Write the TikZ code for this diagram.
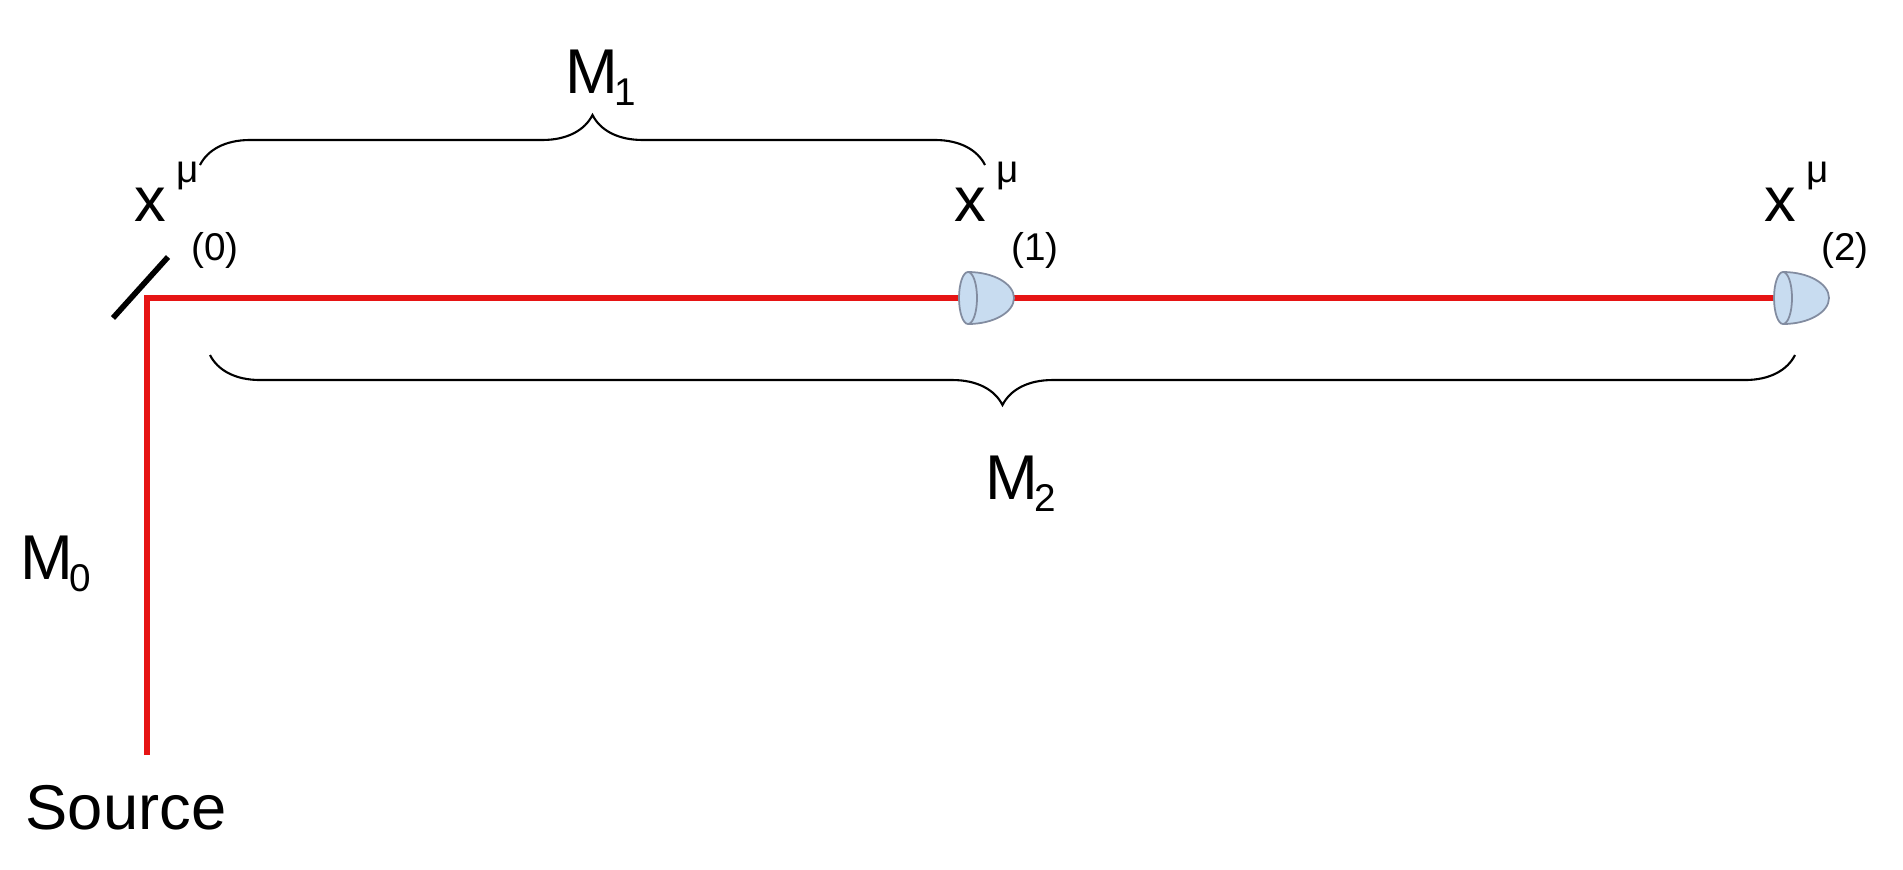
\documentclass[tikz,border=0pt]{standalone}
\usepackage{fontspec}
\setmainfont{Liberation Sans}
\usetikzlibrary{decorations.pathreplacing}
\definecolor{beamred}{RGB}{230,20,20}
\definecolor{detfill}{RGB}{200,220,240}
\definecolor{detline}{RGB}{130,140,160}
\begin{document}
\begin{tikzpicture}[x=0.01cm,y=-0.01cm,
  lbl/.style={inner sep=0pt,font=\fontsize{18}{20}\selectfont},
  sml/.style={inner sep=0pt,font=\fontsize{11}{13}\selectfont},
  beam/.style={draw=beamred,line width=1.6pt},
  br/.style={decorate,decoration={brace,amplitude=0.5cm},line width=0.6pt}]
\useasboundingbox (0,0) rectangle (1903,869);
\coordinate (src) at (147,755);
\coordinate (mir) at (147,298);
\coordinate (end) at (1775,298);
\draw[beam] (src) -- (mir) -- (end);
\draw[line width=1.6pt] (113,318) -- (168,257);
% detectors
\foreach \n/\x in {d1/968,d2/1783}{
  \coordinate (\n) at (\x,298);
  \filldraw[fill=detfill,draw=detline,line width=0.5pt]
    (\x,272) arc[start angle=-90,end angle=90,x radius=46,y radius=26] arc[start angle=90,end angle=270,x radius=9,y radius=26];
  \draw[detline,line width=0.5pt] (\x,272) arc[start angle=-90,end angle=90,x radius=9,y radius=26];
}
% braces
\coordinate (t1) at (200,165); \coordinate (t2) at (985,165);
\draw[br] (t1) -- (t2);
\coordinate (b1) at (1795,355); \coordinate (b2) at (210,355);
\draw[br] (b1) -- (b2);
\node[lbl] (m1) at (592,72) {M};
\node[sml] (m1s) at (625,92) {1};
\node[lbl] (m2) at (1012,478) {M};
\node[sml] (m2s) at (1045,498) {2};
\node[lbl] (m0) at (47,558) {M};
\node[sml] (m0s) at (80,578) {0};
\node[lbl] (s) at (126,808) {Source};
% x labels
\foreach \n/\x/\k in {a/150/0,b/970/1,c/1780/2}{
  \node[lbl] (x\n) at (\x,205) {x};
  \node[sml] (mu\n) at (\x+38,176) {μ};
  \node[sml] (p\n) at (\x+65,250) {(\k)};
}
\end{tikzpicture}
\end{document}
